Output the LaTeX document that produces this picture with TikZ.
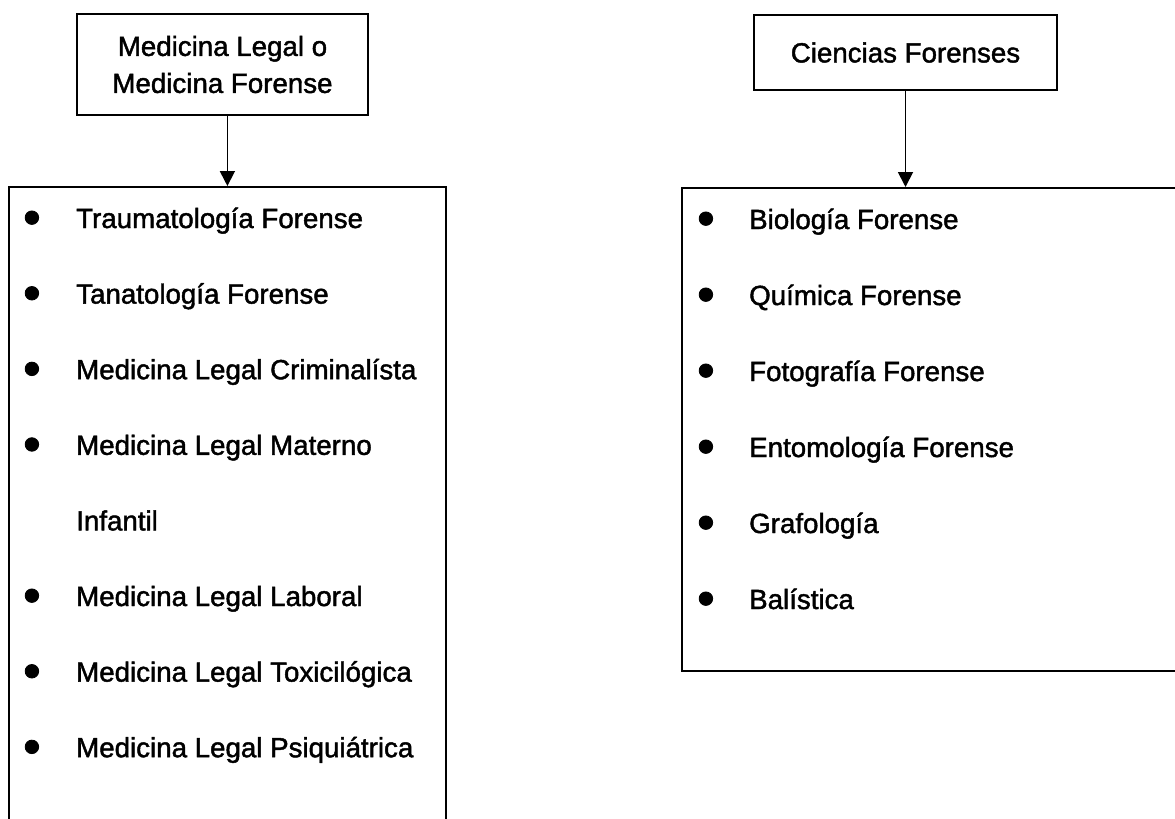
\documentclass[tikz,border=0pt]{standalone}
\usepackage{fontspec}
\setmainfont{Liberation Sans}[RawFeature={embolden=1.6}]
\usetikzlibrary{arrows.meta}
\tikzset{
  box/.style={draw, line width=1.8pt, inner sep=0pt},
  headbox/.style={box, align=center, font=\fontsize{27.7}{37}\selectfont},
  listbox/.style={box, anchor=north west},
  item/.style={anchor=base west, inner sep=0pt, font=\fontsize{27.7}{33}\selectfont},
  conn/.style={line width=1.8pt, -{Triangle[width=15pt,length=15pt]}}
}
\newcommand{\bul}[1]{\makebox[#1][l]{\hspace{-2pt}\raisebox{-6.2pt}{\scalebox{1.8}{\textbullet}}}}
\begin{document}
\begin{tikzpicture}[x=1pt,y=-1pt]
\useasboundingbox (0,0) rectangle (1175,819);
\clip (0,0) rectangle (1175,819);
% headers
\node[headbox, minimum width=291pt, minimum height=101pt] (H1) at (222.5,64.5) {Medicina Legal o\\Medicina Forense};
\node[headbox, minimum width=303pt, minimum height=75pt] (H2) at (905.5,52.5) {Ciencias Forenses};
% list boxes
\node[listbox, minimum width=437pt, minimum height=660pt] (L) at (8,186) {};
\node[listbox, minimum width=520pt, minimum height=483pt] (R) at (681,187) {};
% connectors
\draw[conn] (L.north |- H1.south) -- (L.north);
\draw[conn] (H2.south) -- (H2.south |- R.north);
% left items
\node[item] (l1) at (25,228.0) {\bul{51pt}Traumatología Forense};
\node[item] (l2) at (25,303.6) {\bul{51pt}Tanatología Forense};
\node[item] (l3) at (25,379.2) {\bul{51pt}Medicina Legal Criminalísta};
\node[item] (l4) at (25,454.8) {\bul{51pt}Medicina Legal Materno};
\node[item] (l5) at (76,530.4) {Infantil};
\node[item] (l6) at (25,606.0) {\bul{51pt}Medicina Legal Laboral};
\node[item] (l7) at (25,681.6) {\bul{51pt}Medicina Legal Toxicilógica};
\node[item] (l8) at (25,757.2) {\bul{51pt}Medicina Legal Psiquiátrica};
% right items
\node[item] (r1) at (699,229.0) {\bul{50pt}Biología Forense};
\node[item] (r2) at (699,305.0) {\bul{50pt}Química Forense};
\node[item] (r3) at (699,381.0) {\bul{50pt}Fotografía Forense};
\node[item] (r4) at (699,457.0) {\bul{50pt}Entomología Forense};
\node[item] (r5) at (699,533.0) {\bul{50pt}Grafología};
\node[item] (r6) at (699,609.0) {\bul{50pt}Balística};
\end{tikzpicture}
\end{document}
